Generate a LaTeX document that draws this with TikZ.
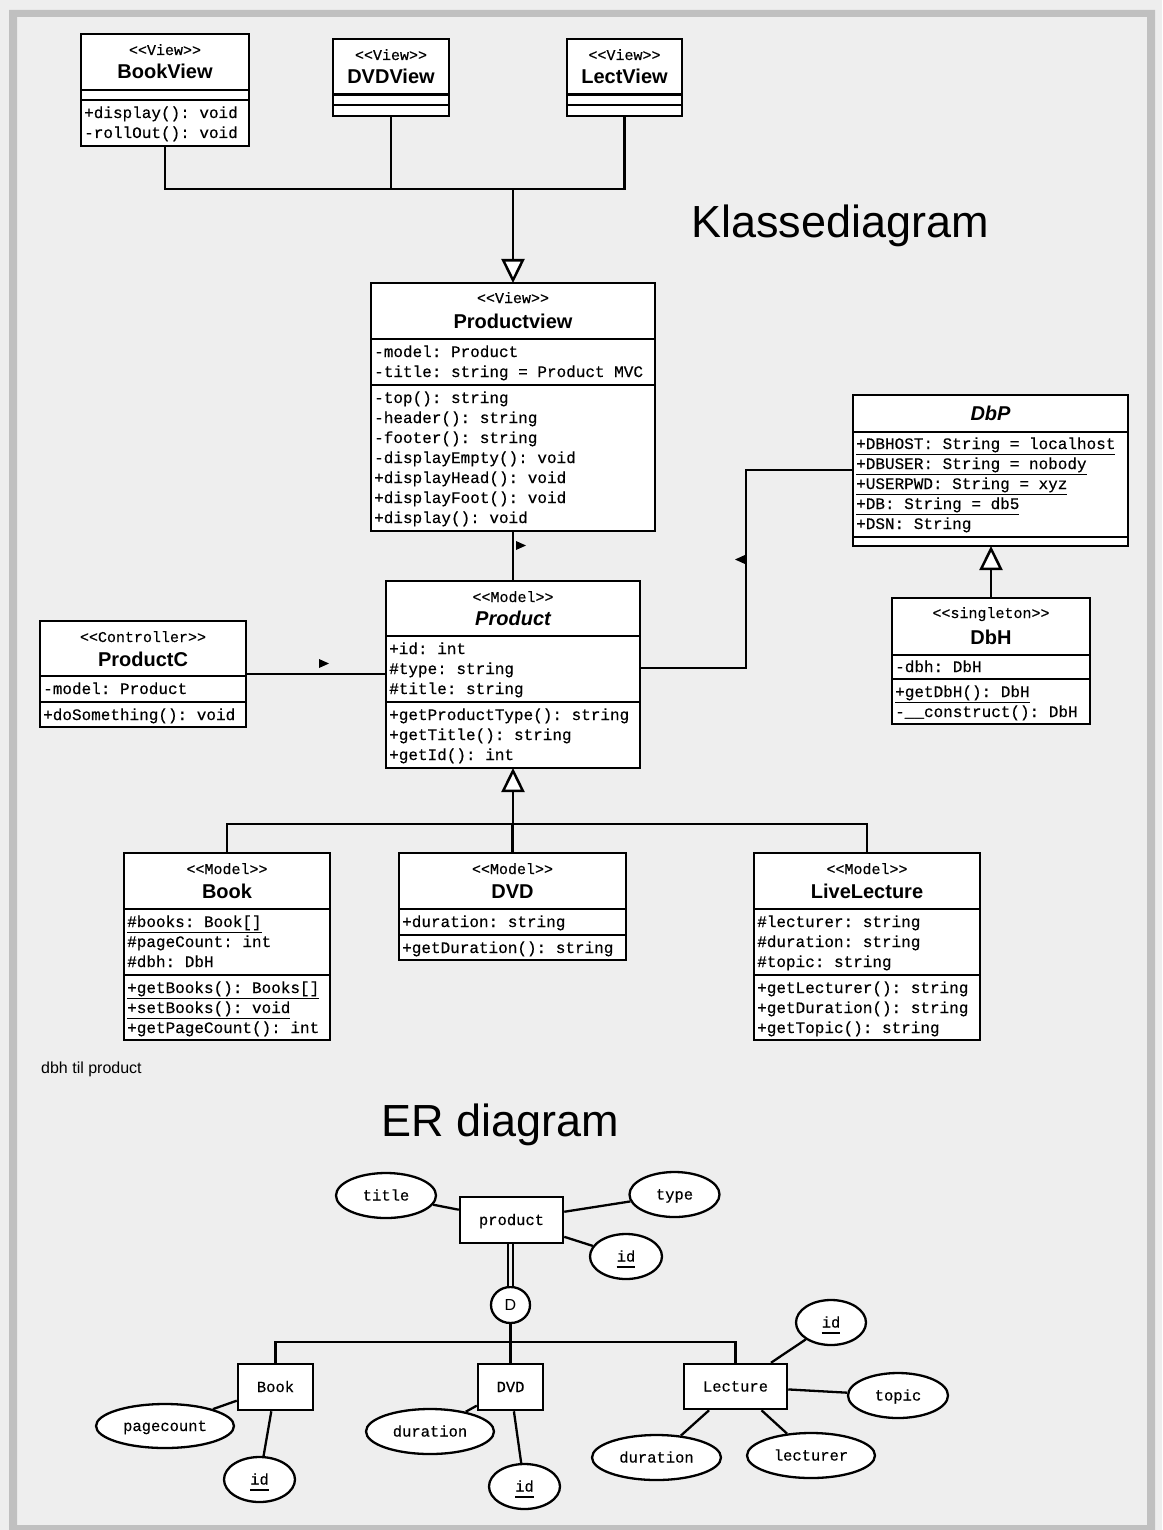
\documentclass[tikz,border=0pt]{standalone}
\usepackage{fontspec}
\setmainfont{Liberation Sans}
\setsansfont{Liberation Sans}
\newfontfamily\umlmono{Liberation Mono}[FakeBold=0.4]
\usetikzlibrary{arrows.meta,shapes.geometric}
\definecolor{bgc}{HTML}{EEEEEE}
\definecolor{framec}{HTML}{C0C0C0}
\frenchspacing
\newcommand\gst[1]{<\kern0pt<#1>\kern0pt>}
\newcommand\undl[1]{\setbox0\hbox{#1}\rlap{\rule[-6.3pt]{\wd0}{1.5pt}}\box0}
\newcount\tcnt
\newcommand\tx[4]{\global\advance\tcnt by 1\relax\node[#1] (tx\the\tcnt) at (#2,#3) {#4};}
\newcommand\cls[5]{\node[umlbox, minimum width={(#4)-(#2)}, minimum height={(#5)-(#3)}] (#1) at ({((#2)+(#4))/2},{((#3)+(#5))/2}) {};}
\newcommand\hs[3]{\draw[sepline] (#1,#3) -- (#2,#3);}
\begin{document}
\begin{tikzpicture}[x=1pt,y=-1pt,
 umlbox/.style={draw, line width=2.6pt, fill=white, rectangle, inner sep=0pt, outer sep=0pt},
 sepline/.style={line width=2.4pt},
 conn/.style={line width=2.5pt},
 gen/.style={conn, -{Triangle[length=24pt,width=23pt,fill=white]}},
 stereotxt/.style={font=\frenchspacing\umlmono\fontsize{15}{15}\selectfont, inner sep=0pt, anchor=base},
 nametxt/.style={font=\bfseries\fontsize{20}{20}\selectfont, inner sep=0pt, anchor=base},
 abstxt/.style={nametxt, font=\bfseries\itshape\fontsize{20}{20}\selectfont},
 memtxt/.style={font=\frenchspacing\umlmono\fontsize{16}{16}\selectfont, inner sep=0pt, anchor=base west},
 ent/.style={draw, line width=2.5pt, fill=white, rectangle, inner sep=0pt, font=\umlmono\fontsize{15.5}{15.5}\selectfont, text height=10pt, text depth=0pt},
 attr/.style={draw, line width=2.3pt, fill=white, ellipse, inner sep=0pt, font=\umlmono\fontsize{15.5}{15.5}\selectfont, text height=10pt, text depth=0pt},
 erline/.style={line width=2.3pt},
 bigtitle/.style={font=\fontsize{45}{45}\selectfont, inner sep=0pt, anchor=base},
]
\fill[bgc] (0,0) rectangle (1162,1530);
\fill[framec, even odd rule] (9,10) rectangle (1155,1530) (17,17) rectangle (1147,1525);
\useasboundingbox (0,0) rectangle (1162,1530);

% ---------- View classes ----------
\cls{bookview}{81}{34}{249}{146}
\hs{81}{249}{90}\hs{81}{249}{100}
\tx{stereotxt}{165}{55}{\gst{View}}
\tx{nametxt}{165}{79}{BookView}
\tx{memtxt}{84}{118}{+display(): void}
\tx{memtxt}{84}{138}{-rollOut(): void}

\cls{dvdview}{333}{39}{449}{116}
\hs{333}{449}{94.5}\hs{333}{449}{105}
\tx{stereotxt}{391}{60}{\gst{View}}
\tx{nametxt}{391}{84}{DVDView}

\cls{lectview}{567}{39}{682}{116}
\hs{567}{682}{94.5}\hs{567}{682}{105}
\tx{stereotxt}{624.5}{60}{\gst{View}}
\tx{nametxt}{624.5}{84}{LectView}

\node[bigtitle] (klasse) at (840,237) {Klassediagram};

% ---------- Productview ----------
\cls{pview}{371}{283}{655}{531}
\hs{371}{655}{339}\hs{371}{655}{385}
\tx{stereotxt}{513}{303}{\gst{View}}
\tx{nametxt}{513}{328}{Productview}
\tx{memtxt}{374}{357}{-model: Product}
\tx{memtxt}{374}{377}{-title: string = Product MVC}
\tx{memtxt}{374}{403}{-top(): string}
\tx{memtxt}{374}{423}{-header(): string}
\tx{memtxt}{374}{443}{-footer(): string}
\tx{memtxt}{374}{463}{-displayEmpty(): void}
\tx{memtxt}{374}{483}{+displayHead(): void}
\tx{memtxt}{374}{503}{+displayFoot(): void}
\tx{memtxt}{374}{523}{+display(): void}

% ---------- Product ----------
\cls{prod}{386}{581}{640}{768}
\hs{386}{640}{636}\hs{386}{640}{702}
\tx{stereotxt}{513}{602}{\gst{Model}}
\tx{abstxt}{513}{625}{Product}
\tx{memtxt}{389}{654}{+id: int}
\tx{memtxt}{389}{674}{\#type: string}
\tx{memtxt}{389}{694}{\#title: string}
\tx{memtxt}{389}{720}{+getProductType(): string}
\tx{memtxt}{389}{740}{+getTitle(): string}
\tx{memtxt}{389}{760}{+getId(): int}

% ---------- ProductC ----------
\cls{pc}{40}{621}{246}{727}
\hs{40}{246}{676}\hs{40}{246}{702}
\tx{stereotxt}{143}{642}{\gst{Controller}}
\tx{nametxt}{143}{666}{ProductC}
\tx{memtxt}{43}{694}{-model: Product}
\tx{memtxt}{43}{720}{+doSomething(): void}

% ---------- DbP ----------
\cls{dbp}{853}{395}{1128}{546}
\hs{853}{1128}{432}\hs{853}{1128}{537}
\tx{abstxt}{990.5}{420}{DbP}
\tx{memtxt}{856}{449}{\undl{+DBHOST: String = localhost}}
\tx{memtxt}{856}{469}{\undl{+DBUSER: String = nobody}}
\tx{memtxt}{856}{489}{\undl{+USERPWD: String = xyz}}
\tx{memtxt}{856}{509}{\undl{+DB: String = db5}}
\tx{memtxt}{856}{529}{+DSN: String}

% ---------- DbH ----------
\cls{dbh}{892}{598}{1090}{724}
\hs{892}{1090}{655}\hs{892}{1090}{679}
\tx{stereotxt}{991}{618}{\gst{singleton}}
\tx{nametxt}{991}{644}{DbH}
\tx{memtxt}{895}{672}{-dbh: DbH}
\tx{memtxt}{895}{697}{\undl{+getDbH(): DbH}}
\tx{memtxt}{895}{717}{-\_\_construct(): DbH}

% ---------- Book ----------
\cls{book}{124}{853}{330}{1040}
\hs{124}{330}{909}\hs{124}{330}{975}
\tx{stereotxt}{227}{874}{\gst{Model}}
\tx{nametxt}{227}{898}{Book}
\tx{memtxt}{127}{927}{\undl{\#books: Book[]}}
\tx{memtxt}{127}{947}{\#pageCount: int}
\tx{memtxt}{127}{967}{\#dbh: DbH}
\tx{memtxt}{127}{993}{\undl{+getBooks(): Books[]}}
\tx{memtxt}{127}{1013}{\undl{+setBooks(): void}}
\tx{memtxt}{127}{1033}{+getPageCount(): int}

% ---------- DVD ----------
\cls{dvd}{399}{853}{626}{960}
\hs{399}{626}{909}\hs{399}{626}{935}
\tx{stereotxt}{512.5}{874}{\gst{Model}}
\tx{nametxt}{512.5}{898}{DVD}
\tx{memtxt}{402}{927}{+duration: string}
\tx{memtxt}{402}{953}{+getDuration(): string}

% ---------- LiveLecture ----------
\cls{livelec}{754}{853}{980}{1040}
\hs{754}{980}{909}\hs{754}{980}{975}
\tx{stereotxt}{867}{874}{\gst{Model}}
\tx{nametxt}{867}{898}{LiveLecture}
\tx{memtxt}{757}{927}{\#lecturer: string}
\tx{memtxt}{757}{947}{\#duration: string}
\tx{memtxt}{757}{967}{\#topic: string}
\tx{memtxt}{757}{993}{+getLecturer(): string}
\tx{memtxt}{757}{1013}{+getDuration(): string}
\tx{memtxt}{757}{1033}{+getTopic(): string}

% ---------- UML connectors ----------
\coordinate (vj) at (513,189);
\draw[conn] (bookview.south) |- (vj);
\draw[conn] (lectview.south) |- (vj);
\draw[conn] (dvdview.south) -- (dvdview.south |- vj);
\draw[gen] (vj) -- (pview.north);

\draw[conn] (pview.south) -- (prod.north);
\fill (516,541) -- (526,545.5) -- (516,550) -- cycle;

\draw[conn] (pc.east) -- (pc.east -| prod.west);
\fill (319,659) -- (329,663.5) -- (319,668) -- cycle;

\coordinate (pdb) at (746,668);
\draw[conn] (prod.east |- pdb) -- (pdb) |- (dbp.west |- 0,470);
\fill (745,555) -- (735,559.5) -- (745,564) -- cycle;

\draw[gen] (dbh.north) -- (dbh.north |- dbp.south);

\coordinate (mj) at (513,824);
\draw[conn] (book.north) |- (mj);
\draw[conn] (livelec.north) |- (mj);
\draw[conn] (dvd.north) -- (dvd.north |- mj);
\draw[gen] (mj) -- (prod.south);

\node[font=\fontsize{16}{16}\selectfont, inner sep=0pt, anchor=base west] (note) at (41,1073) {dbh til product};

% ---------- ER diagram ----------
\node[bigtitle] (ertitle) at (500.5,1136) {ER diagram};

\node[ent, minimum width=103pt, minimum height=46pt] (erprod) at (511.5,1220) {product};
\node[attr, minimum width=100pt, minimum height=45pt] (ptitle) at (386,1195.5) {title};
\node[attr, minimum width=90pt, minimum height=45pt] (ptype) at (674.5,1194.5) {type};
\node[attr, minimum width=72pt, minimum height=45pt] (pid) at (626,1256.5) {\undl{id}};
\node[attr, minimum width=39pt, minimum height=36pt, font=\fontsize{16}{16}\selectfont, text height=11.5pt] (erd) at (510.5,1305) {D};

\node[ent, minimum width=75pt, minimum height=46pt] (erbook) at (275.5,1387) {Book};
\node[ent, minimum width=65pt, minimum height=46pt] (erdvd) at (510.5,1387) {DVD};
\node[ent, minimum width=103pt, minimum height=45pt] (erlect) at (735.5,1386.5) {Lecture};

\node[attr, minimum width=138pt, minimum height=44pt] (bpage) at (165,1426) {pagecount};
\node[attr, minimum width=71pt, minimum height=45pt] (bid) at (259.5,1479.5) {\undl{id}};
\node[attr, minimum width=128pt, minimum height=45pt] (ddur) at (430,1431.5) {duration};
\node[attr, minimum width=71pt, minimum height=45pt] (did) at (524.5,1486.5) {\undl{id}};
\node[attr, minimum width=70pt, minimum height=45pt] (lid) at (831,1322.5) {\undl{id}};
\node[attr, minimum width=100pt, minimum height=45pt] (ltopic) at (898,1395.5) {topic};
\node[attr, minimum width=129pt, minimum height=45pt] (ldur) at (656.5,1457.5) {duration};
\node[attr, minimum width=128pt, minimum height=45pt] (llect) at (811,1455.5) {lecturer};

\draw[erline] (erprod) -- (ptitle);
\draw[erline] (erprod) -- (ptype);
\draw[erline] (erprod) -- (pid);
\draw[line width=2.2pt, double=bgc, double distance=3pt] (erd.north |- erprod.south) -- (erd.north);

\coordinate (erj) at (510.5,1342);
\draw[erline] (erd.south) -- (erdvd.north);
\draw[erline] (erbook.north) |- (erj) -| (erlect.north);

\draw[erline] (erbook) -- (bpage);
\draw[erline] (erbook) -- (bid);
\draw[erline] (erdvd) -- (ddur);
\draw[erline] (erdvd) -- (did);
\draw[erline] (erlect) -- (lid);
\draw[erline] (erlect) -- (ltopic);
\draw[erline] (erlect) -- (ldur);
\draw[erline] (erlect) -- (llect);
\end{tikzpicture}
\end{document}
